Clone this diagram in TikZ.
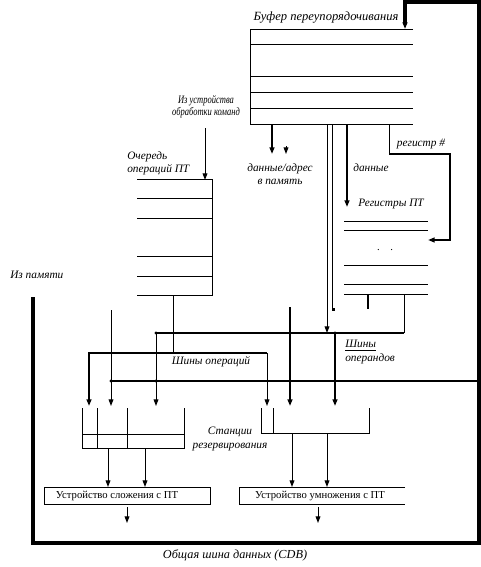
\documentclass[tikz,border=0pt]{standalone}
\usepackage{fontspec}
\usepackage{graphicx}
\setmainfont{Liberation Serif}
\usetikzlibrary{arrows.meta}
\begin{document}
\begin{tikzpicture}[x=0.75pt,y=-0.75pt,
  ln/.style={line width=0.75pt},
  tk/.style={line width=1.6pt},
  cdbline/.style={line width=2.4pt},
  arr/.style={-{Triangle[length=5pt,width=3.6pt]}},
  lbl/.style={font=\itshape\fontsize{8.5}{10}\selectfont, align=center, inner sep=0pt},
  unitlbl/.style={font=\fontsize{8}{9}\selectfont, inner sep=0pt},
  jdot/.style={circle, fill, inner sep=0pt, minimum size=2.5pt}]
\useasboundingbox (0,0) rectangle (481,567);

% ---------- reorder buffer ----------
\coordinate (bufTL) at (250,30);
\draw[ln] (413,30) -- (bufTL) -- (250,124) -- (413,124);
\foreach \yy in {45,77,92,108} \draw[ln] (250,\yy) -- (413,\yy);
\node[lbl, font=\itshape\fontsize{9.4}{11}\selectfont] (buflbl) at (326,18) {Буфер переупорядочивания};

% ---------- CDB loop ----------
\coordinate (cdbA) at (33,297);
\coordinate (cdbIn) at (405,29);
\draw[cdbline,arr,line join=miter] (cdbA) -- (33,543) -- (479,543) -- (479,2) -- (405,2) -- (cdbIn);
\node[lbl, font=\itshape\fontsize{9.2}{11}\selectfont] (cdblbl) at (235,555) {Общая шина данных (CDB)};
\coordinate (cdbR) at (479,381);
\coordinate (cdbL) at (111,381);
\draw[tk] (cdbR) -- (cdbL);

% ---------- buffer outputs ----------
\draw[tk,arr] (272,124) -- (272,154);
\draw[ln,arr] (286,146) -- (286,154);
\node[lbl] (memlbl) at (280,174) {данные/адрес\\в память};
\draw[ln,arr] (327,124) -- (327,333);
\draw[ln] (332,124) -- (332,309);
\fill (332,308) rectangle (335,310.5);
\draw[tk,arr] (347,124) -- (347,207);
\node[lbl] (datalbl) at (371,168) {данные};
\draw[ln] (389,124) -- (389,154);
\draw[tk,arr] (389,154) -- (450,154) -- (450,240) -- (428,240);
\node[lbl] (reglbl) at (421,144) {регистр \#};

% ---------- FP registers ----------
\node[lbl] (regflbl) at (391,204) {Регистры ПТ};
\foreach \yy in {221,230,265,284,294} \draw[ln] (344,\yy) -- (428,\yy);
\node[inner sep=0pt,font=\fontsize{8}{9}\selectfont] (dots) at (385,250) {.\ \ \ \ .};
\draw[tk] (368,294) -- (368,309);
\draw[ln] (404,294) -- (404,333);
\draw[tk] (404,333) -- (156,333);
\node[lbl, align=left, anchor=west] (opndlbl) at (345,352) {\underline{Шины}\\операндов};

% ---------- instruction queue ----------
\draw[ln] (137,179) -- (212,179) -- (212,295) -- (137,295);
\foreach \yy in {198,218,256,276} \draw[ln] (137,\yy) -- (212,\yy);
\node[lbl] (iulbl) at (206,107) {\scalebox{0.75}[1]{\begin{tabular}{@{}c@{}}Из устройства\\[-1pt]обработки команд\end{tabular}}};
\draw[ln,arr] (205,128) -- (205,180);
\node[lbl, align=left, anchor=west] (qlbl) at (127,163) {Очередь\\операций ПТ};
\node[lbl, align=left, anchor=west] (frommem) at (10,275) {Из памяти};

% ---------- operation bus ----------
\draw[ln] (173,295) -- (173,353);
\draw[tk,arr] (173,353) -- (89,353) -- (89,406);
\draw[tk] (173,353) -- (267,353);
\draw[ln,arr] (267,353) -- (267,406);
\node[lbl] (oplbl) at (211,362) {Шины операций};

% ---------- from memory / operand bus drops ----------
\draw[ln,arr] (111,310) -- (111,406);
\draw[tk,arr] (290,307) -- (290,406);
\draw[ln,arr] (156,333) -- (156,406);
\draw[tk,arr] (335,333) -- (335,406);
\node[jdot] at (111,381) {};
\node[jdot] at (156,381) {};
\node[jdot] at (156,333) {};
\node[jdot] at (335,333) {};

% ---------- reservation stations ----------
\draw[ln] (82,408) -- (82,448) -- (184,448) -- (184,408);
\draw[ln] (82,434) -- (184,434);
\draw[ln] (97,408) -- (97,448);
\draw[ln] (127,408) -- (127,448);
\draw[ln] (261,408) -- (261,433) -- (369,433) -- (369,408);
\draw[ln] (273,408) -- (273,433);
\node[lbl] (rslbl) at (230,439) {Станции\\резервирования};

\draw[ln,arr] (108,448) -- (108,487);
\draw[ln,arr] (145,448) -- (145,487);
\draw[ln,arr] (292,433) -- (292,487);
\draw[ln,arr] (327,433) -- (327,487);

% ---------- functional units ----------
\draw[ln] (44,487) rectangle (210,504);
\node[unitlbl] (addlbl) at (117,495.5) {Устройство сложения с ПТ};
\draw[ln] (405,487) -- (239,487) -- (239,504) -- (405,504);
\node[unitlbl] (mullbl) at (320,495.5) {Устройство умножения с ПТ};
\draw[ln,arr] (127,507) -- (127,523);
\draw[ln,arr] (318,507) -- (318,523);
\end{tikzpicture}
\end{document}
